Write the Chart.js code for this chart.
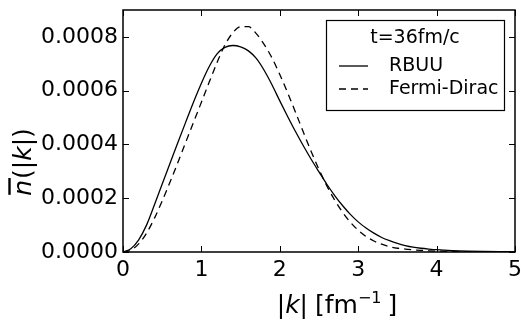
<!DOCTYPE html>
<html><head><meta charset="utf-8">
<script src="https://cdn.jsdelivr.net/npm/chart.js@4/dist/chart.umd.min.js"></script>
<style>html,body{margin:0;padding:0;background:#fff;overflow:hidden}#wrap{width:521px;height:321px;position:relative}canvas{display:block}</style>
</head><body><div id="wrap"><canvas id="c" width="521" height="321" style="width:521px;height:321px"></canvas></div>
<script>
const kValues = [0,0.1,0.2,0.3,0.4,0.5,0.6,0.7,0.8,0.9,1.0,1.1,1.2,1.3,1.4,1.5,1.6,1.7,1.8,1.9,2.0,2.1,2.2,2.3,2.4,2.5,2.6,2.7,2.8,2.9,3.0,3.1,3.2,3.3,3.4,3.5,3.6,3.7,3.8,3.9,4.0,4.2,4.4,4.6,4.8,5.0];
const rbuu = [0,0.000012,0.000045,0.000100,0.000175,0.000253,0.000330,0.000407,0.000483,0.000558,0.000628,
  0.000690,0.000737,0.000761,0.000768,0.000763,0.000748,0.000720,0.000676,0.000622,0.000562,
  0.000504,0.000448,0.000395,0.000345,0.000298,0.000252,0.000210,0.000173,0.000140,0.000112,
  0.000089,0.000070,0.000054,0.000042,0.000032,0.000024,0.000018,0.000014,0.000011,0.0000085,
  0.0000052,0.0000032,0.000002,0.0000012,0.0000007];
const fermiDirac = [0,0.000007,0.000030,0.000070,0.000125,0.000190,0.000260,0.000333,0.000408,0.000483,0.000557,
  0.000632,0.000705,0.000770,0.000815,0.000838,0.000838,0.000812,0.000772,0.000722,0.000660,
  0.000592,0.000520,0.000446,0.000374,0.000307,0.000246,0.000193,0.000148,0.000111,0.000081,
  0.000058,0.000041,0.000029,0.000020,0.000014,0.000011,0.000008,0.000006,0.0000045,0.0000033,
  0.0000018,0.000001,0.0000005,0.0000003,0.0000001];
const xTicks = [0,1,2,3,4,5];
const yTicks = [0,0.0002,0.0004,0.0006,0.0008];
const legendTitle = 't=36fm/c';
const seriesLabels = ['RBUU','Fermi-Dirac'];

const FONT = "'DejaVu Sans'";
const toXY = (ys) => kValues.map((k,i)=>({x:k,y:ys[i]}));

const framePlugin = {
  id:'frame',
  afterDraw(chart){
    const {ctx, chartArea:a, scales:{x,y}} = chart;
    ctx.save();
    ctx.strokeStyle='#000';
    ctx.lineWidth=1;
    const L=6;
    const line=(x1,y1,x2,y2)=>{ctx.beginPath();ctx.moveTo(x1,y1);ctx.lineTo(x2,y2);ctx.stroke();};
    xTicks.forEach(v=>{const p=Math.round(x.getPixelForValue(v))+0.5; line(p,a.bottom,p,a.bottom-L); line(p,a.top,p,a.top+L);});
    yTicks.forEach(v=>{const p=Math.round(y.getPixelForValue(v))+0.5; line(a.left,p,a.left+L,p); line(a.right,p,a.right-L,p);});
    ctx.lineWidth=1.5;
    ctx.strokeRect(a.left,a.top,a.right-a.left,a.bottom-a.top);

    // legend
    const bx1=a.right-189, by1=a.top+10, bw=178, bh=90;
    ctx.fillStyle='#fff';
    ctx.fillRect(bx1,by1,bw,bh);
    ctx.lineWidth=1.2;
    ctx.strokeRect(bx1+0.5,by1+0.5,bw,bh);
    ctx.fillStyle='#000';
    ctx.font='19px '+FONT;
    ctx.textBaseline='middle';
    ctx.textAlign='center';
    ctx.fillText(legendTitle,bx1+bw/2,by1+18);
    ctx.textAlign='left';
    const ds=chart.data.datasets;
    [by1+46,by1+69].forEach((yy,i)=>{
      ctx.lineWidth=1.3;
      ctx.setLineDash(ds[i].borderDash||[]);
      line(bx1+13,yy,bx1+42,yy);
      ctx.setLineDash([]);
      ctx.fillText(ds[i].label,bx1+63,yy);
    });

    // axis titles with math italics
    const drawRuns=(runs,size,cx,cy,rot)=>{
      ctx.save();
      ctx.translate(cx,cy); ctx.rotate(rot);
      ctx.textBaseline='alphabetic'; ctx.textAlign='left';
      let w=0;
      runs.forEach(r=>{ctx.font=(r.it?'oblique ':'')+(r.sz||size)+'px '+FONT; r.w=ctx.measureText(r.t).width; w+=r.w+(r.gap||0);});
      let xx=-w/2;
      runs.forEach(r=>{
        ctx.font=(r.it?'oblique ':'')+(r.sz||size)+'px '+FONT;
        ctx.fillText(r.t,xx,(r.dy||0)+size*0.35);
        if(r.bar){ctx.lineWidth=2.4;ctx.beginPath();ctx.moveTo(xx+1,-size*0.5);ctx.lineTo(xx+r.w+2,-size*0.5);ctx.stroke();}
        xx+=r.w+(r.gap||0);
      });
      ctx.restore();
    };
    ctx.fillStyle='#000'; ctx.strokeStyle='#000';
    drawRuns([{t:'|'},{t:'k',it:true},{t:'|',gap:7},{t:'[fm'},{t:'\u22121',sz:16,dy:-10,gap:6},{t:']'}],25,337,304,0);
    drawRuns([{t:'n',it:true,bar:true,gap:1},{t:'('},{t:'|'},{t:'k',it:true},{t:'|'},{t:')'}],25,22,162,-Math.PI/2);
    ctx.restore();
  }
};

new Chart(document.getElementById('c'),{
  type:'line',
  data:{datasets:[
    {label:seriesLabels[0],data:toXY(rbuu),borderColor:'#000',borderWidth:1.3,pointRadius:0,fill:false,cubicInterpolationMode:'monotone'},
    {label:seriesLabels[1],data:toXY(fermiDirac),borderColor:'#000',borderWidth:1.3,borderDash:[7,5],pointRadius:0,fill:false,cubicInterpolationMode:'monotone'}
  ]},
  options:{
    responsive:false,animation:false,devicePixelRatio:1,
    layout:{padding:{top:10,right:6,left:0,bottom:0}},
    plugins:{legend:{display:false},tooltip:{enabled:false}},
    scales:{
      x:{type:'linear',min:0,max:5,
        grid:{display:false,drawTicks:false},border:{display:false},
        afterBuildTicks:s=>{s.ticks=xTicks.map(v=>({value:v}));},
        afterFit:s=>{s.height=69;s.paddingLeft=0;s.paddingRight=0;},
        ticks:{color:'#000',font:{family:FONT,size:22},padding:5,maxRotation:0,callback:v=>String(v)}},
      y:{type:'linear',min:0,max:0.0009,
        grid:{display:false,drawTicks:false},border:{display:false},
        afterBuildTicks:s=>{s.ticks=yTicks.map(v=>({value:v}));},
        afterFit:s=>{s.width=123;s.paddingTop=0;s.paddingBottom=0;},
        ticks:{color:'#000',font:{family:FONT,size:22},padding:5,callback:v=>Number(v).toFixed(4)}}
    }
  },
  plugins:[framePlugin]
});
</script></body></html>
